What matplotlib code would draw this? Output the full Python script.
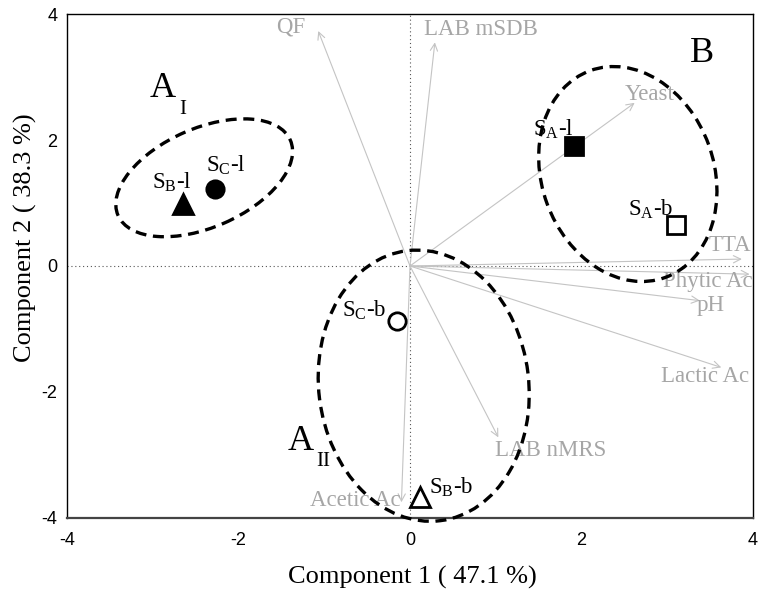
import matplotlib
matplotlib.use('Agg')
import matplotlib.pyplot as plt
from matplotlib.patches import Ellipse
from matplotlib.transforms import Affine2D

plt.rcParams['mathtext.fontset'] = 'custom'
plt.rcParams['mathtext.rm'] = 'Liberation Serif'
plt.rcParams['mathtext.it'] = 'Liberation Serif:italic'
plt.rcParams['axes.unicode_minus'] = False

SERIF = 'Liberation Serif'
GREY = '#a6a6a6'

# sample scores (PC1, PC2)
sample_labels = ['S$_{\\rm A}$-l', 'S$_{\\rm A}$-b', 'S$_{\\rm B}$-l',
                 'S$_{\\rm B}$-b', 'S$_{\\rm C}$-l', 'S$_{\\rm C}$-b']
pc1 = [1.91, 3.10, -2.65, 0.12, -2.27, -0.15]
pc2 = [1.91, 0.65, 0.98, -3.66, 1.23, -0.87]

# variable loadings (arrow tips)
var_names = ['QF', 'LAB mSDB', 'Yeast', 'TTA', 'Phytic Ac', 'pH',
             'Lactic Ac', 'LAB nMRS', 'Acetic Ac']
var_x = [-1.07, 0.29, 2.62, 3.87, 3.96, 3.38, 3.63, 1.03, -0.10]
var_y = [3.73, 3.55, 2.59, 0.11, -0.13, -0.55, -1.61, -2.72, -3.75]

# where the labels sit
var_label_pos = [(-1.39, 3.79), (0.83, 3.76), (2.79, 2.73), (3.73, 0.32),
                 (3.47, -0.25), (3.51, -0.63), (3.44, -1.75), (1.64, -2.93),
                 (-0.64, -3.73)]
sample_label_pos = [(1.67, 2.17), (2.81, 0.90), (-2.78, 1.32),
                    (0.48, -3.52), (-2.15, 1.59), (-0.54, -0.70)]
sample_style = [('s', 'black'), ('s', 'white'), ('^', 'black'),
                ('^', 'white'), ('o', 'black'), ('o', 'white')]

fig = plt.figure(figsize=(7.63, 5.96), dpi=100)
ax = fig.add_axes([0.0878, 0.1309, 0.8991, 0.8456])
ax.set_xlim(-4, 4)
ax.set_ylim(-4, 4)

ax.axhline(0, color='#555555', lw=0.8, ls=(0, (1, 2.5)), zorder=1)
ax.axvline(0, color='#555555', lw=0.8, ls=(0, (1, 2.5)), zorder=1)

for name, x, y, (lx, ly) in zip(var_names, var_x, var_y, var_label_pos):
    ax.annotate('', xy=(x, y), xytext=(0, 0),
                arrowprops=dict(arrowstyle='->', color='#c4c4c4', lw=0.8,
                                shrinkA=0, shrinkB=0, mutation_scale=13),
                zorder=2)
    ax.text(lx, ly, name, color=GREY, fontsize=16.5, family=SERIF,
            ha='center', va='center', zorder=3)

# cluster ellipses, drawn in pixel units around a data centre
sx = 686 / 8.0
sy = 504 / 8.0
clusters = [((-2.40, 1.40), 188, 99, 23.6),
            ((2.54, 1.46), 220, 172, 110),
            ((0.16, -1.90), 272, 210, 97)]
for (cx, cy), w, h, ang in clusters:
    tr = Affine2D().scale(1 / sx, 1 / sy).translate(cx, cy) + ax.transData
    e = Ellipse((0, 0), w, h, angle=ang, fill=False, ec='black', lw=2.4,
                ls=(0, (3.3, 2)), transform=tr, clip_on=False, zorder=4)
    ax.add_patch(e)

for lab, x, y, (lx, ly), (m, fc) in zip(sample_labels, pc1, pc2,
                                        sample_label_pos, sample_style):
    ms = 14 if m == '^' else 12.5
    ax.plot(x, y, marker=m, ms=ms, mfc=fc, mec='black', mew=2,
            ls='none', zorder=6, clip_on=False)
    ax.text(lx, ly, lab, fontsize=16.5, family=SERIF, ha='center',
            va='center', zorder=7)

ax.text(3.40, 3.37, 'B', fontsize=26, family=SERIF, ha='center', va='center')
ax.text(-2.88, 2.81, 'A', fontsize=26, family=SERIF, ha='center', va='center')
ax.text(-2.65, 2.49, 'I', fontsize=15, family=SERIF, ha='center', va='center')
ax.text(-1.27, -2.79, 'A', fontsize=26, family=SERIF, ha='center', va='center')
ax.text(-1.01, -3.10, 'II', fontsize=15, family=SERIF, ha='center', va='center')

ax.set_xticks([-4, -2, 0, 2, 4])
ax.set_yticks([-4, -2, 0, 2, 4])
ax.tick_params(length=0, labelsize=13)
ax.tick_params(axis='x', pad=10)
ax.tick_params(axis='y', pad=7)
for lbl in ax.get_xticklabels() + ax.get_yticklabels():
    lbl.set_family('Liberation Sans')
for s in ax.spines.values():
    s.set_linewidth(1.0)
    s.set_color('black')
ax.spines['bottom'].set_color('#444444')
ax.spines['bottom'].set_linewidth(1.6)

fig.text(412 / 763, 1 - 577 / 596, 'Component 1 ( 47.1 %)', fontsize=19,
         family=SERIF, ha='center', va='center')
fig.text(25 / 763, 1 - 238 / 596, 'Component 2 ( 38.3 %)', fontsize=19,
         family=SERIF, ha='center', va='center', rotation=90)

fig.savefig('out.png', dpi=100)
